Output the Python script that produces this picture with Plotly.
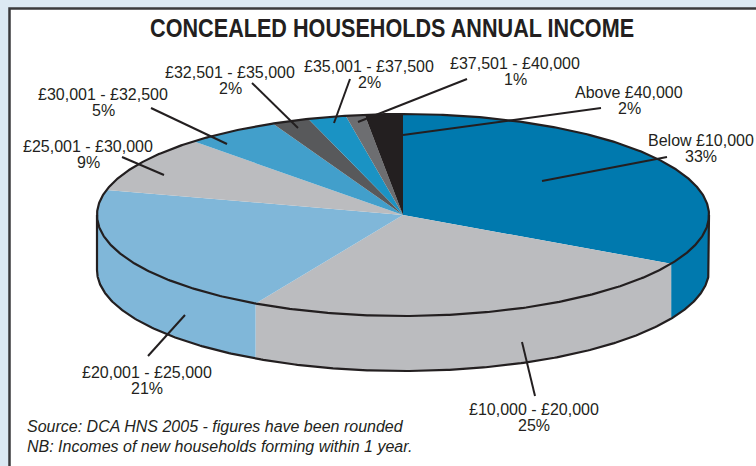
import numpy as np
import plotly.graph_objects as go

# Income bands, shares (%) and slice colours, clockwise from twelve o'clock
bands = ["Below £10,000", "£10,000 - £20,000", "£20,001 - £25,000", "£25,001 - £30,000",
         "£30,001 - £32,500", "£32,501 - £35,000", "£35,001 - £37,500", "£37,501 - £40,000",
         "Above £40,000"]
shares = [33, 25, 21, 9, 5, 2, 2, 1, 2]
colours = ["#0079AE", "#BBBCBF", "#80B7D9", "#BBBCBF", "#429FCB", "#58595B", "#1A93C4", "#6D6E71", "#231F20"]

# Label anchors (x, first line y, second line y) and leader ends (x0, y0, x1, y1), pixels
label_at = [(701, 140, 156), (534, 409, 425), (147, 372, 388), (88, 146, 162), (103, 94, 110),
            (230, 72, 88), (369, 66, 82), (515, 63, 79), (629, 92, 108)]
leaders = [(667, 157, 542, 181), (535, 396, 522, 342), (148, 356, 185, 315), (122, 157, 164, 175),
           (151, 108, 227, 144), (252, 83, 298, 128), (350, 79, 334, 123), (467, 79, 358, 122),
           (601, 108, 403, 135)]

title = "CONCEALED HOUSEHOLDS ANNUAL INCOME"
notes = ["Source: DCA HNS 2005 - figures have been rounded",
         "NB: Incomes of new households forming within 1 year."]

INK = "#231F20"
CX, CY, RX, RY, DEPTH = 403, 215, 306, 101, 55


def rim(a0, a1, drop=0.0):
    """Points along the disc edge between two clockwise angles measured from the top."""
    t = np.radians(np.linspace(a0, a1, max(2, int(abs(a1 - a0) * 2) + 2)))
    return CX + RX * np.sin(t), CY - RY * np.cos(t) + drop


fig = go.Figure()


def area(x, y, colour):
    fig.add_trace(go.Scatter(x=x, y=y, mode="lines", fill="toself", fillcolor=colour,
                             line=dict(width=0), hoverinfo="skip", showlegend=False))


def outline(x, y, width=2.2):
    fig.add_trace(go.Scatter(x=x, y=y, mode="lines", line=dict(color=INK, width=width),
                             hoverinfo="skip", showlegend=False))


edges = np.concatenate([[0], np.cumsum(shares)]) * 3.6

# Side wall: only the front half of the disc shows
for start, end, colour in zip(edges[:-1], edges[1:], colours):
    lo, hi = max(start, 90), min(end, 270)
    if hi > lo:
        tx, ty = rim(lo, hi)
        bx, by = rim(hi, lo, DEPTH)
        area(np.concatenate([tx, bx]), np.concatenate([ty, by]), colour)

# Top face
for start, end, colour in zip(edges[:-1], edges[1:], colours):
    ax, ay = rim(start, end)
    area(np.concatenate([[CX], ax, [CX]]), np.concatenate([[CY], ay, [CY]]), colour)

# Disc outlines
ox, oy = rim(0, 360)
outline(ox, oy)
wx, wy = rim(90, 270, DEPTH)
outline(np.concatenate([[CX + RX], wx, [CX - RX]]), np.concatenate([[CY], wy, [CY]]))

# Leader lines
for x0, y0, x1, y1 in leaders:
    outline([x0, x1], [y0, y1], 2)

annotations = [dict(x=392, y=28, text=title, showarrow=False, xanchor="center", yanchor="middle",
                    font=dict(family="Liberation Sans", size=26, weight=700, color=INK))]
for band, share, (x, y1, y2) in zip(bands, shares, label_at):
    for line, y in ((band, y1), (f"{share}%", y2)):
        annotations.append(dict(x=x, y=y, text=line, showarrow=False, xanchor="center", yanchor="middle",
                                font=dict(family="Liberation Sans", size=16, color=INK)))
for note, y in zip(notes, (426, 446)):
    annotations.append(dict(x=25, y=y, text=f"<i>{note}</i>", showarrow=False, xanchor="left", yanchor="middle",
                            font=dict(family="Liberation Sans", size=16, color=INK)))

fig.update_layout(
    width=756, height=466, autosize=False,
    margin=dict(l=0, r=0, t=0, b=0),
    paper_bgcolor="#DCE9F3", plot_bgcolor="rgba(0,0,0,0)",
    xaxis=dict(range=[0, 756], visible=False, fixedrange=True),
    yaxis=dict(range=[466, 0], visible=False, fixedrange=True),
    shapes=[dict(type="rect", x0=9.5, y0=8.5, x1=780, y1=490, layer="below",
                 fillcolor="white", line=dict(color="#3A3A3C", width=2.5))],
    annotations=annotations,
)

# The heading is set condensed: squeeze its glyphs to the wanted run length
condense_title = """
document.querySelectorAll('.annotation-text').forEach(function (t) {
  if (t.textContent.indexOf('CONCEALED') === 0) {
    t.setAttribute('textLength', '484');
    t.setAttribute('lengthAdjust', 'spacingAndGlyphs');
  }
});
"""
fig.write_html("out.html", config=dict(displayModeBar=False), post_script=condense_title)
